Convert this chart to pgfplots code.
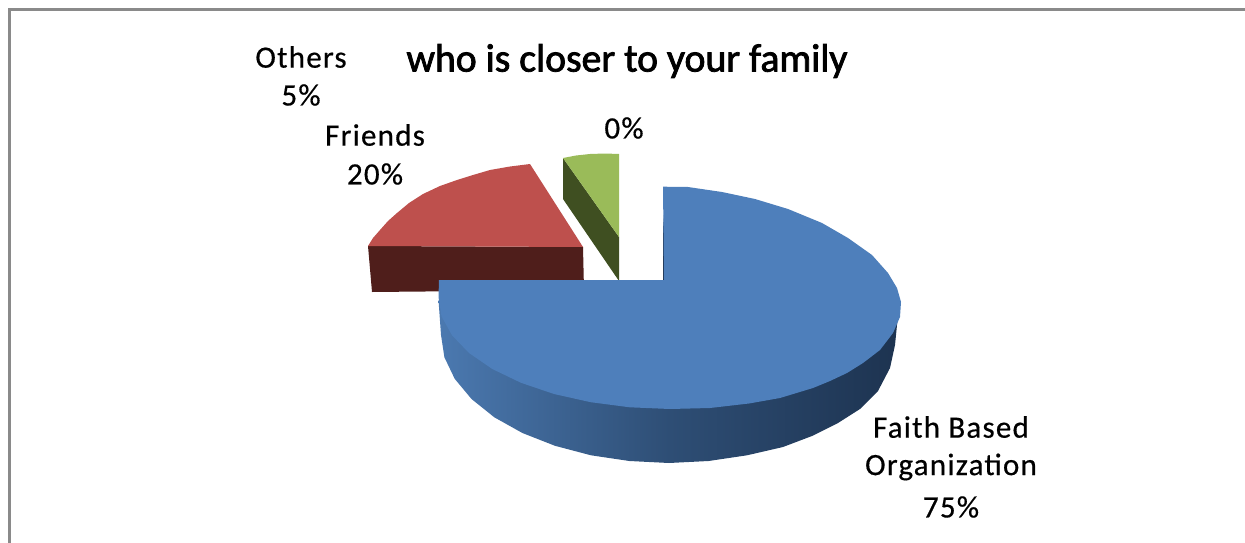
\documentclass[border=0pt]{standalone}
\usepackage{fontspec}
\usepackage{pgfplots}
\pgfplotsset{compat=1.18}
\setmainfont{Carlito}
\newfontfamily\labelfont[LetterSpace=4,FakeBold=0.5]{Carlito}
\newfontfamily\titlefont[FakeBold=2]{Carlito}
\definecolor{bluetop}{HTML}{4E7FBB}
\definecolor{redtop}{HTML}{BE504D}
\definecolor{redside}{HTML}{4F1E1B}
\definecolor{greentop}{HTML}{9ABB59}
\definecolor{greenside}{HTML}{3F4F21}
\definecolor{sideA}{HTML}{4B79B0}
\definecolor{sideB}{HTML}{2E4E75}
\definecolor{sideC}{HTML}{1D3350}
\definecolor{framegray}{HTML}{8A8A8A}
\begin{document}
\begin{tikzpicture}
\path[use as bounding box] (0,0) rectangle (1245pt,543pt);
\begin{axis}[
  at={(0,0)}, anchor=south west,
  width=1245pt, height=543pt, scale only axis,
  xmin=0, xmax=1245, ymin=0, ymax=543, y dir=reverse,
  hide axis, clip=true,
]
% Frame: only the top and left edges fall inside the page
\addplot[framegray, line width=3pt] coordinates {(1245,10) (9,10) (9,543)};

% Others slice, 5%
\addplot[fill=greenside, draw=none] coordinates {(563,158) (619,237) (619,281) (563,199)} -- cycle;
\addplot[fill=greentop, draw=none] coordinates {(563,158) (576,155.5) (590,154) (605,153.5) (619,154) (619,237)} -- cycle;

% Friends slice, 20%
\addplot[fill=redside, draw=none] coordinates {(368,246) (583,247) (584,290) (372,292)} -- cycle;
\addplot[fill=redtop, draw=none] coordinates {
  (530,164) (510,166.5) (490,170) (473,175) (457,180) (440,186) (423,194) (409,203)
  (397,213) (388,221) (380,230) (373,238) (368,246) (583,247)} -- cycle;

% Faith Based Organization slice, 75%: rim
\addplot[left color=sideA, right color=sideC, middle color=sideB, draw=none] coordinates {
  (438.5,300) (441,335) (444.4,357.3) (454.7,378.8) (471.5,399) (494.3,417.3) (522.4,433)
  (555,445.8) (591,455.3) (629.4,461) (669,463) (708.6,461) (747,455.3) (783,447)
  (812,436) (838,423) (860,409) (878,391) (890,368) (895,345) (897,325) (900,300) (800,300)
} -- cycle;
% inner wall beside the vertical cut
\addplot[fill=sideC, draw=none] coordinates {(663,215) (667.5,281) (663,281)} -- cycle;
% top face
\addplot[fill=bluetop, draw=none] coordinates {
  (664,280) (663,186.7) (688,187) (722,192) (755,199) (788,209) (822,223) (848,238)
  (872,255) (888,273) (897,288) (901,302) (900,317) (893,333) (880,350) (863,363)
  (847,373) (830,381) (813,388) (780,398) (749,403.5) (710,408) (670,409)
  (629.7,407.3) (590.7,402.2) (554,394) (521,382.8) (492.3,369) (469,353) (452,335.3)
  (441.5,316.4) (438.5,297) (439,280)
} -- cycle;

% Title and data labels
\node[font=\fontsize{39.7}{44}\titlefont, anchor=center] at (axis cs:627,61) {who is closer to your family};
\node[font=\fontsize{31}{36}\labelfont, anchor=center] at (axis cs:301,57) {Others};
\node[font=\fontsize{31}{36}\labelfont, anchor=center] at (axis cs:301,95) {5\%};
\node[font=\fontsize{31}{36}\labelfont, anchor=center] at (axis cs:375,135) {Friends};
\node[font=\fontsize{31}{36}\labelfont, anchor=center] at (axis cs:375,174) {20\%};
\node[font=\fontsize{31}{36}\labelfont, anchor=center] at (axis cs:624,128) {0\%};
\node[font=\fontsize{31}{36}\labelfont, anchor=center] at (axis cs:951,427) {Faith Based};
\node[font=\fontsize{31}{36}\labelfont, anchor=center] at (axis cs:951,467) {Organization};
\node[font=\fontsize{31}{36}\labelfont, anchor=center] at (axis cs:951,507) {75\%};
\end{axis}
\end{tikzpicture}
\end{document}
